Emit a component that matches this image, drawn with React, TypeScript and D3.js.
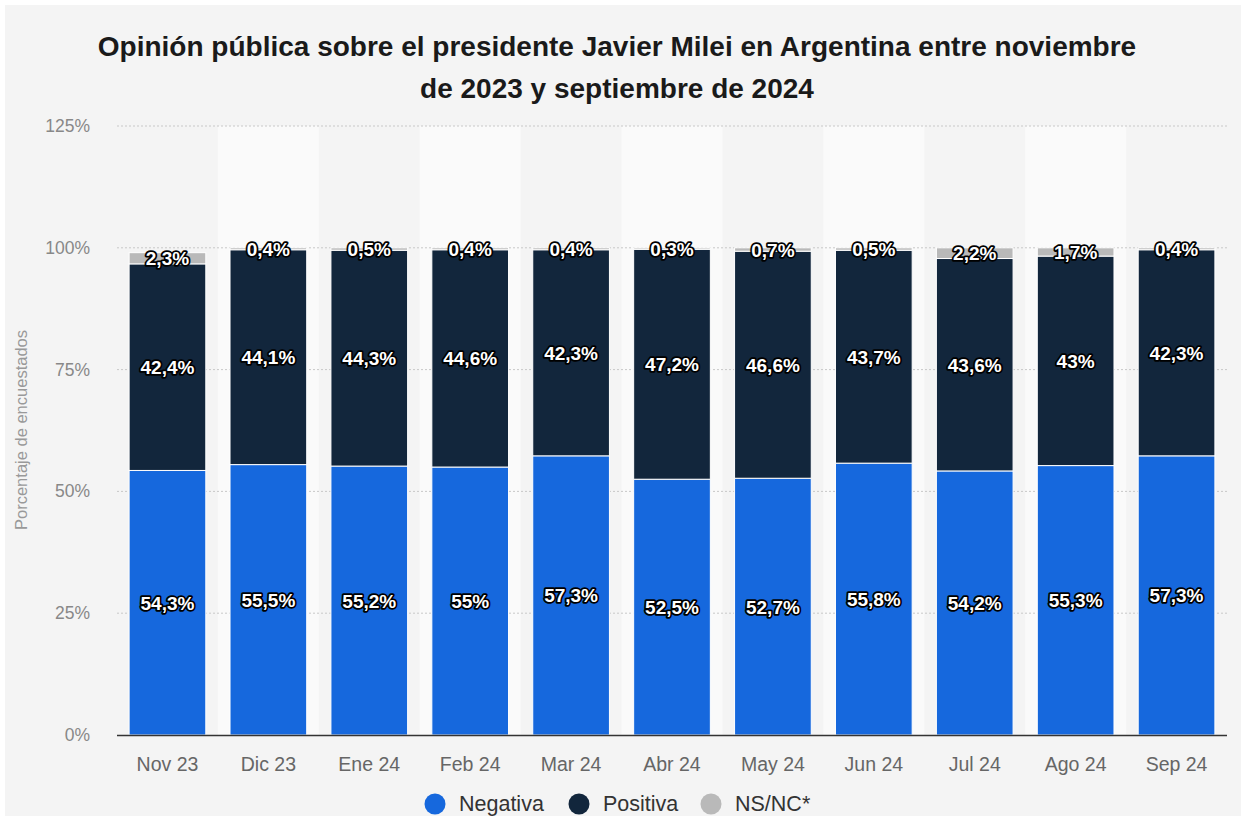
import React from "react";
import * as d3 from "d3";

const categories = ["Nov 23", "Dic 23", "Ene 24", "Feb 24", "Mar 24", "Abr 24", "May 24", "Jun 24", "Jul 24", "Ago 24", "Sep 24"];
const negativa = [54.3, 55.5, 55.2, 55, 57.3, 52.5, 52.7, 55.8, 54.2, 55.3, 57.3];
const positiva = [42.4, 44.1, 44.3, 44.6, 42.3, 47.2, 46.6, 43.7, 43.6, 43, 42.3];
const nsnc = [2.3, 0.4, 0.5, 0.4, 0.4, 0.3, 0.7, 0.5, 2.2, 1.7, 0.4];
const yTicks = [0, 25, 50, 75, 100, 125];
const seriesNames = ["Negativa", "Positiva", "NS/NC*"];
const seriesColors = ["#1668dd", "#12263c", "#b9b9b9"];

const W = 1241, H = 816;
const M = { left: 117, right: 1227, top: 126, bottom: 735 };
const font = "'Liberation Sans', Arial, Helvetica, sans-serif";

function fmt(v: number) {
  return String(v).replace(".", ",") + "%";
}

export default function App() {
  const x = d3.scaleBand<string>().domain(categories).range([M.left, M.right]).paddingInner(0.24).paddingOuter(0.12);
  const band = d3.scaleBand<string>().domain(categories).range([M.left, M.right]);
  const y = d3.scaleLinear().domain([0, 125]).range([M.bottom, M.top]);

  const rows = categories.map((c, i) => ({ cat: c, Negativa: negativa[i], Positiva: positiva[i], "NS/NC*": nsnc[i] }));
  const stack = d3.stack<any>().keys(seriesNames)(rows);
  const values = [negativa, positiva, nsnc];

  const legendX = [426, 570, 702];

  return (
    <svg width={W} height={H} style={{ position: "absolute", left: 0, top: 0, fontFamily: font }}>
      <rect x={0} y={0} width={W} height={H} fill="#ffffff" />
      <rect x={5} y={5} width={W - 5} height={H - 5} fill="#f4f4f4" />
      <text x={617} y={56} textAnchor="middle" fontSize={28} fontWeight="bold" fill="#1a1a1a">
        Opinión pública sobre el presidente Javier Milei en Argentina entre noviembre
      </text>
      <text x={617} y={98} textAnchor="middle" fontSize={28} fontWeight="bold" fill="#1a1a1a">
        de 2023 y septiembre de 2024
      </text>
      {categories.map((c, i) =>
        i % 2 === 1 ? (
          <rect key={c} x={band(c)!} y={M.top} width={band.bandwidth()} height={M.bottom - M.top} fill="#fafafa" />
        ) : null
      )}
      {yTicks.map((t) => (
        <g key={t}>
          {t > 0 && (
            <line x1={M.left} x2={M.right} y1={y(t)} y2={y(t)} stroke="#c8c8c8" strokeWidth={1} strokeDasharray="2,2" />
          )}
          <text x={90} y={y(t) + 6} textAnchor="end" fontSize={17.5} fill="#888">
            {t}%
          </text>
        </g>
      ))}
      <text transform={`translate(27,430) rotate(-90)`} textAnchor="middle" fontSize={16.5} fill="#999">
        Porcentaje de encuestados
      </text>
      {stack.map((s, si) =>
        s.map((d, i) => (
          <rect
            key={si + "-" + i}
            x={x(categories[i])!}
            y={y(d[1])}
            width={x.bandwidth()}
            height={y(d[0]) - y(d[1])}
            fill={seriesColors[si]}
            stroke="#ffffff"
            strokeWidth={1}
          />
        ))
      )}
      <line x1={M.left} x2={M.right} y1={M.bottom + 0.5} y2={M.bottom + 0.5} stroke="#333" strokeWidth={1.5} />
      {stack.map((s, si) =>
        s.map((d, i) => {
          const cx = x(categories[i])! + x.bandwidth() / 2;
          const cy = (y(d[0]) + y(d[1])) / 2;
          return (
            <text
              key={"l" + si + "-" + i}
              x={cx}
              y={cy + 7}
              textAnchor="middle"
              fontSize={19}
              fontWeight="bold"
              fill="#ffffff"
              stroke="#000"
              strokeWidth={3.5}
              strokeLinejoin="round"
              paintOrder="stroke"
            >
              {fmt(values[si][i])}
            </text>
          );
        })
      )}
      {categories.map((c) => (
        <text key={"x" + c} x={band(c)! + band.bandwidth() / 2} y={771} textAnchor="middle" fontSize={19.5} fill="#666">
          {c}
        </text>
      ))}
      {seriesNames.map((n, i) => (
        <g key={"lg" + n}>
          <circle cx={legendX[i] + 9} cy={804} r={10.5} fill={seriesColors[i]} />
          <text x={legendX[i] + 33} y={811} fontSize={21.5} fill="#333">
            {n}
          </text>
        </g>
      ))}
    </svg>
  );
}
